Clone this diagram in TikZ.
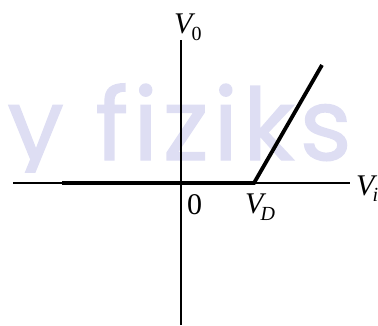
\documentclass[tikz,border=0pt]{standalone}
\usepackage{fontspec}
\setmainfont{Liberation Serif}
\newfontfamily\wmfont[Ligatures={NoCommon},FakeBold=1.2,LetterSpace=5]{Poppins}
\definecolor{wmcol}{RGB}{222,222,243}
\begin{document}
\begin{tikzpicture}[x=1pt,y=-1pt,
  axis/.style={line width=1.3pt},
  curve/.style={line width=3.8pt},
  lbl/.style={inner sep=0pt,anchor=base west,font=\fontsize{30}{30}\selectfont}]
\useasboundingbox (0,0) rectangle (378,325);
% watermark (cropped at its bottom, as in the reference)
\begin{scope}
\clip (0,0) rectangle (378,172);
\node[inner sep=0pt,anchor=base east,text=wmcol,font=\wmfont\fontsize{100}{100}\selectfont] (wm) at (352,160) {by fiziks};
\end{scope}
% axes
\coordinate (ytop) at (181,40);
\coordinate (ybot) at (181,325);
\coordinate (xl) at (13,183);
\coordinate (xr) at (350,183);
\draw[axis] (ybot) -- (ytop);
\draw[axis] (xl) -- (xr);
% characteristic
\coordinate (a) at (62,183);
\coordinate (vd) at (254,183);
\coordinate (b) at (322,65);
\draw[curve,line join=miter] (a) -- (vd) -- (b);
% labels
\node[lbl] (lv0) at (174,33) {\itshape V\kern-1pt\raisebox{-0.24em}{\upshape\fontsize{20}{20}\selectfont 0}};
\node[lbl] (l0) at (187,214) {0};
\node[lbl] (lvd) at (245,213) {\itshape V\kern-3pt\raisebox{-0.24em}{\fontsize{20}{20}\selectfont D}};
\node[lbl] (lvi) at (356,195) {\itshape V\kern-2pt\raisebox{-0.2em}{\fontsize{20}{20}\selectfont i}};
\end{tikzpicture}
\end{document}
